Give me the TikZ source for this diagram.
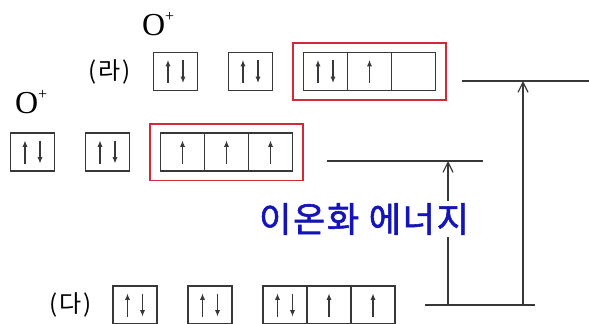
\documentclass[tikz,border=0pt]{standalone}
\usepackage{fontspec}
\setmainfont{Liberation Serif}
\newfontfamily\kr{Noto Sans CJK KR}
\newfontfamily\krlabel{Noto Sans CJK KR}[FakeBold=1.6, LetterSpace=5]
\usepackage{xcolor}
\usetikzlibrary{arrows.meta, positioning, fit}

\definecolor{boxred}{rgb}{0.82,0.16,0.22}
\definecolor{ionblue}{rgb}{0.08,0.08,0.72}
\definecolor{linegray}{rgb}{0.22,0.22,0.22}

\newcommand{\ion}{O\raisebox{7pt}{\fontsize{8}{8}\selectfont+}}

\begin{document}
\begin{tikzpicture}[
        x=0.5pt, y=-0.5pt,
        spin/.style={-{Latex[length=3.2pt,width=2.6pt]}, line width=0.55pt, linegray},
        cell/.style={
            rectangle,
            draw=linegray,
            line width=0.6pt,
            minimum width=22pt,
            minimum height=19pt,
            inner sep=0pt,
            outer sep=0pt
        },
        redfit/.style={inner xsep=5pt, inner ysep=4.5pt},
        redline/.style={draw=boxred, line width=0.9pt},
        level/.style={linegray, line width=0.7pt},
        jump/.style={linegray, line width=0.6pt, -{Straight Barb[length=5pt,width=5pt]}},
        tag/.style={font=\kr\fontsize{12}{12}\selectfont}
    ]
        \useasboundingbox (0,0) rectangle (589,323);

        % row (ra): excited O+
        \node[cell] (ra1) at (175.5,71.5) {};
        \node[cell, right=15.5pt of ra1] (ra2) {};
        \node[cell, right=15.5pt of ra2] (ra3) {};
        \node[cell, right=0pt of ra3] (ra4) {};
        \node[cell, right=0pt of ra4] (ra5) {};
        \node[redfit, fit=(ra3)(ra5)] (raRed) {};
        \node[tag, left=8pt of ra1] (raTag) {(\hspace{1pt}라\hspace{1pt})};
        \node[anchor=base west, font=\fontsize{16}{16}\selectfont] (raIon) at (135,35) {\ion};

        % row: ground O+
        \node[cell] (op1) at (32.5,152) {};
        \node[cell, right=15.5pt of op1] (op2) {};
        \node[cell, right=15.5pt of op2] (op3) {};
        \node[cell, right=0pt of op3] (op4) {};
        \node[cell, right=0pt of op4] (op5) {};
        \node[redfit, fit=(op3)(op5)] (opRed) {};
        \node[anchor=base west, font=\fontsize{16}{16}\selectfont] (opIon) at (8,113) {\ion};

        % row (da): O
        \node[cell] (da1) at (135,305) {};
        \node[cell, right=15.5pt of da1] (da2) {};
        \node[cell, right=15.5pt of da2] (da3) {};
        \node[cell, right=0pt of da3] (da4) {};
        \node[cell, right=0pt of da4] (da5) {};
        \node[tag, left=7pt of da1] (daTag) {(\hspace{1pt}다\hspace{1pt})};

        % electrons
        \foreach \c in {ra1,ra2,ra3,op1,op2,da1,da2,da3} {
            \draw[spin] ([xshift=-3.75pt,yshift=-5.75pt]\c.center) -- ++(0,11.5pt);
            \draw[spin] ([xshift=3.75pt,yshift=5.75pt]\c.center) -- ++(0,-11.5pt);
        }
        \foreach \c in {ra4,op3,op4,op5,da4,da5}
            \draw[spin] ([yshift=-5.75pt]\c.center) -- ++(0,11.5pt);

        % red frames
        \foreach \r in {opRed,raRed}
            \draw[redline] (\r.south west) rectangle (\r.north east);

        % energy levels
        \coordinate (lvDaL) at (425,305);
        \coordinate (lvDaR) at (535,305);
        \coordinate (lvOpL) at (327,161);
        \coordinate (lvOpR) at (483,161);
        \coordinate (lvRaL) at (462,81);
        \coordinate (lvRaR) at (589,81);
        \draw[level] (lvDaL) -- (lvDaR);
        \draw[level] (lvOpL) -- (lvOpR);
        \draw[level] (lvRaL) -- (lvRaR);

        \coordinate (ieFoot) at (448,305);
        \coordinate (exFoot) at (523,305);
        \draw[jump] (ieFoot) -- (ieFoot |- lvOpL);
        \draw[jump] (exFoot) -- (exFoot |- lvRaL);

        \node[fill=white, inner sep=1pt, text=ionblue, font=\krlabel\fontsize{17.5}{17.5}\selectfont] (ieText) at (364,219) {이온화 에너지};
    \end{tikzpicture}
\end{document}
